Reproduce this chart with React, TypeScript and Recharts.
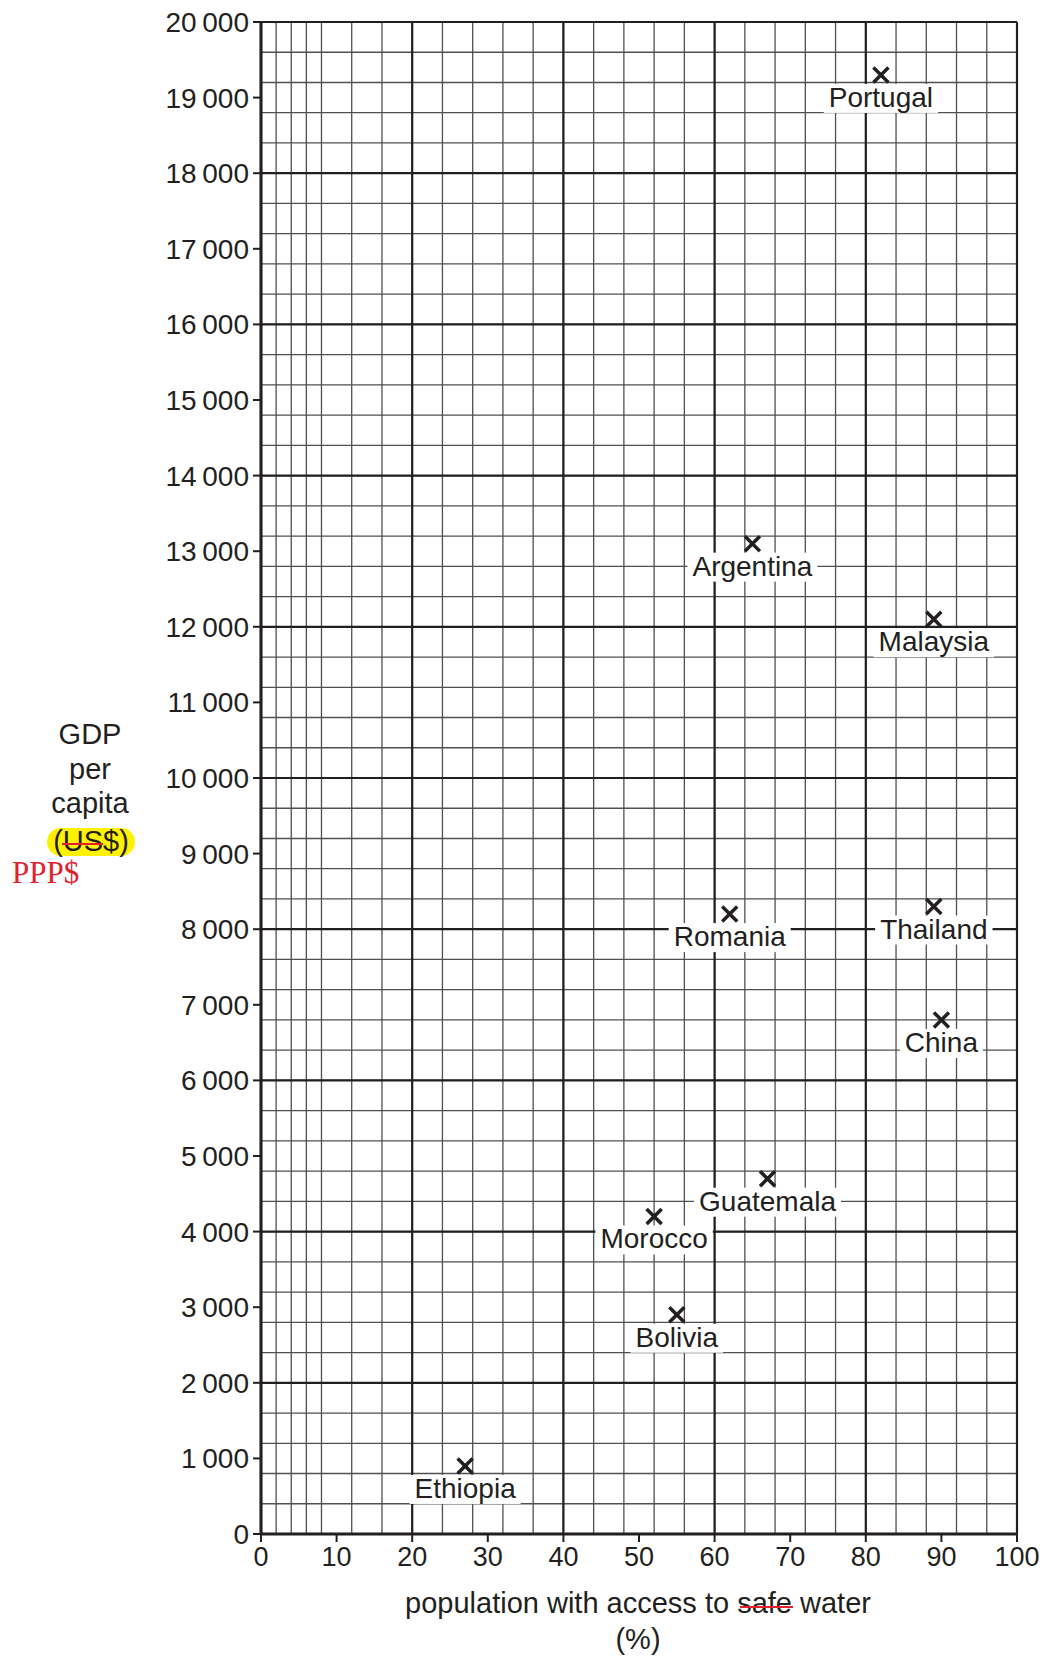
import { ScatterChart, Scatter, XAxis, YAxis, CartesianGrid } from 'recharts';

const countries = ['Portugal', 'Argentina', 'Malaysia', 'Romania', 'Thailand', 'China', 'Guatemala', 'Morocco', 'Bolivia', 'Ethiopia'];
const waterAccess = [82, 65, 89, 62, 89, 90, 67, 52, 55, 27];
const gdpPerCapita = [19300, 13100, 12100, 8200, 8300, 6800, 4700, 4200, 2900, 900];

const xTicks = [0, 10, 20, 30, 40, 50, 60, 70, 80, 90, 100];
const yTicks = [0, 1000, 2000, 3000, 4000, 5000, 6000, 7000, 8000, 9000, 10000, 11000, 12000, 13000, 14000, 15000, 16000, 17000, 18000, 19000, 20000];

// grid lines: small squares every 2 % and every 200, bold every 20 % and 2000
const minorX = Array.from({ length: 51 }, (_, i) => i * 2);
const minorY = Array.from({ length: 101 }, (_, i) => i * 200);
const majorX = Array.from({ length: 6 }, (_, i) => i * 20);
const majorY = Array.from({ length: 11 }, (_, i) => i * 2000);

const points = countries.map((country, i) => ({ country, water: waterAccess[i], gdp: gdpPerCapita[i] }));

const INK = '#231f20';
const FONT = '"Liberation Sans", Arial, Helvetica, sans-serif';

let ctx: CanvasRenderingContext2D | null = null;
function textWidth(s: string, size: number) {
  if (!ctx) ctx = document.createElement('canvas').getContext('2d');
  if (!ctx) return s.length * size * 0.52;
  ctx.font = `${size}px "Liberation Sans"`;
  return ctx.measureText(s).width;
}

const fmtGdp = (v: number) => (v < 1000 ? String(v) : `${Math.floor(v / 1000)}\u2009000`);

function CrossMark(props: any) {
  const { cx, cy, payload } = props;
  const s = 7.5;
  const w = textWidth(payload.country, 28) + 10;
  const base = cy + 32;
  return (
    <g>
      <rect x={cx - w / 2} y={base - 23} width={w} height={29} fill="#fff" />
      <text x={cx} y={base} textAnchor="middle" fontSize={28} fontFamily={FONT} fill={INK}>
        {payload.country}
      </text>
      <line x1={cx - s} y1={cy - s} x2={cx + s} y2={cy + s} stroke={INK} strokeWidth={3.5} />
      <line x1={cx - s} y1={cy + s} x2={cx + s} y2={cy - s} stroke={INK} strokeWidth={3.5} />
    </g>
  );
}

export default function App() {
  return (
    <div style={{ position: 'absolute', left: 0, top: 0, width: 1046, height: 1657, background: '#fff' }}>
      <ScatterChart width={1046} height={1657} margin={{ top: 22, right: 29, bottom: 93, left: 201 }}>
        <CartesianGrid horizontalValues={minorY} verticalValues={minorX} stroke="#505050" strokeWidth={1.3} />
        <CartesianGrid horizontalValues={majorY} verticalValues={majorX} stroke={INK} strokeWidth={2.2} />
        <XAxis
          type="number"
          dataKey="water"
          domain={[0, 100]}
          ticks={xTicks}
          height={30}
          tickSize={8}
          tickMargin={5}
          axisLine={{ stroke: INK, strokeWidth: 3 }}
          tickLine={{ stroke: INK, strokeWidth: 2 }}
          tick={{ fill: INK, fontSize: 27, fontFamily: FONT }}
        />
        <YAxis
          type="number"
          dataKey="gdp"
          domain={[0, 20000]}
          ticks={yTicks}
          width={60}
          tickSize={8}
          tickMargin={4}
          tickFormatter={fmtGdp}
          axisLine={{ stroke: INK, strokeWidth: 3 }}
          tickLine={{ stroke: INK, strokeWidth: 2 }}
          tick={{ fill: INK, fontSize: 28, fontFamily: FONT }}
        />
        <Scatter data={points} shape={CrossMark} isAnimationActive={false} />
      </ScatterChart>

      <svg width={1046} height={1657} style={{ position: 'absolute', left: 0, top: 0, pointerEvents: 'none' }}>
        <g fontFamily={FONT} fontSize={29} fill={INK} textAnchor="middle">
          <rect x={47} y={828} width={88} height={28} rx={14} fill="#fff200" />
          <text x={90} y={744}>GDP</text>
          <text x={90} y={779}>per</text>
          <text x={90} y={813}>capita</text>
          <text x={91} y={851}>(US$)</text>
          <text x={638} y={1613}>population with access to safe water</text>
          <text x={638} y={1649}>(%)</text>
        </g>
        <line x1={62} y1={844} x2={103} y2={844} stroke="#e5202e" strokeWidth={2} />
        <line x1={740} y1={1607} x2={793} y2={1607} stroke="#e5202e" strokeWidth={2} />
        <text x={12} y={883} fontFamily='"Liberation Serif", "Times New Roman", serif' fontSize={31} fill="#e5202e">
          PPP$
        </text>
      </svg>
    </div>
  );
}
